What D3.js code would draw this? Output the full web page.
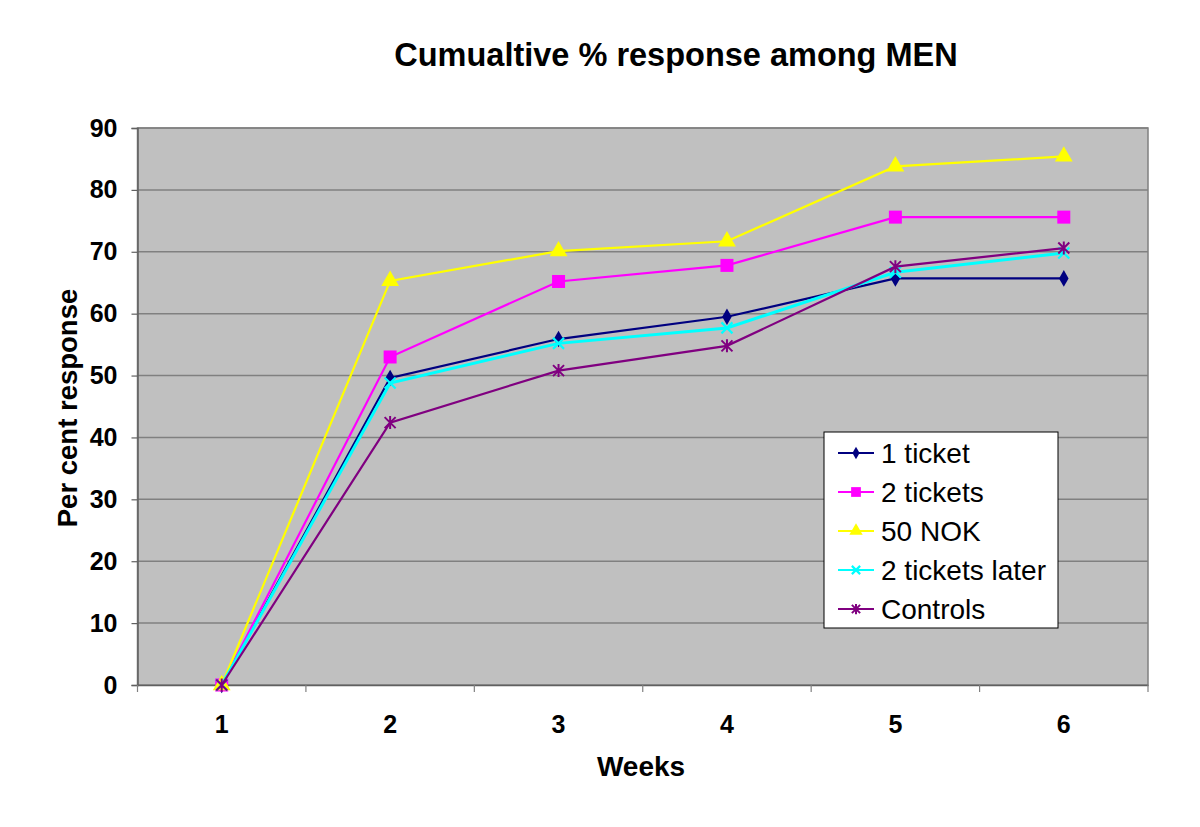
<!DOCTYPE html>
<html><head><meta charset="utf-8">
<script src="https://cdn.jsdelivr.net/npm/d3@7"></script>
<style>body{margin:0;background:#fff}text{font-family:"Liberation Sans",Arial,sans-serif}</style>
</head><body>
<svg id="c" width="1200" height="827"></svg>
<script>
const weeks = ["1","2","3","4","5","6"];
const yTicks = [0,10,20,30,40,50,60,70,80,90];
const seriesNames = ["1 ticket","2 tickets","50 NOK","2 tickets later","Controls"];
const oneTicket = [0, 49.6, 55.9, 59.5, 65.7, 65.7];
const twoTickets = [0, 53.0, 65.2, 67.8, 75.6, 75.6];
const fiftyNOK = [0, 65.3, 70.1, 71.7, 83.8, 85.4];
const twoTicketsLater = [0, 48.8, 55.2, 57.7, 66.7, 69.8];
const controls = [0, 42.4, 50.8, 54.8, 67.6, 70.6];
const colors = ["#000080","#FF00FF","#FFFF00","#00FFFF","#800080"];
const symbols = ["diamond","square","triangle","x","star"];

const series = [oneTicket, twoTickets, fiftyNOK, twoTicketsLater, controls].map((v,i)=>({name:seriesNames[i], values:v, color:colors[i], sym:symbols[i]}));

const L=137.5, R=1148, T=128, B=685;
const svg = d3.select("#c");
const x = d3.scaleBand().domain(weeks).range([L,R]).padding(0);
const y = d3.scaleLinear().domain([0,90]).range([B,T]);

svg.append("rect").attr("x",L).attr("y",T).attr("width",R-L).attr("height",B-T).attr("fill","#C0C0C0");
svg.append("g").selectAll("line").data(yTicks.filter(d=>d>0)).join("line")
  .attr("x1",L).attr("x2",R).attr("y1",d=>y(d)).attr("y2",d=>y(d))
  .attr("stroke","#808080").attr("stroke-width",1.5);
svg.append("rect").attr("x",L).attr("y",T).attr("width",R-L).attr("height",B-T).attr("fill","none").attr("stroke","#808080").attr("stroke-width",1.5);

const yAxis = svg.append("g").attr("transform",`translate(${L},0)`)
  .call(d3.axisLeft(y).tickValues(yTicks).tickSize(6).tickPadding(14));
yAxis.select(".domain").attr("stroke","#606060").attr("stroke-width",1.5);
yAxis.selectAll(".tick line").attr("stroke","#606060").attr("stroke-width",1.2);
yAxis.selectAll("text").attr("font-size",25).attr("font-weight","bold").attr("fill","#000").attr("font-family","Liberation Sans, Arial, sans-serif");

const xAxis = svg.append("g").attr("transform",`translate(0,${B})`)
  .call(d3.axisBottom(x).tickSize(0).tickPadding(30));
xAxis.select(".domain").attr("stroke","#606060").attr("stroke-width",1.5);
xAxis.selectAll("text").attr("font-size",25).attr("font-weight","bold").attr("fill","#000").attr("font-family","Liberation Sans, Arial, sans-serif");
const bounds = weeks.map(w=>x(w)).concat([R]);
xAxis.append("g").selectAll("line").data(bounds).join("line")
  .attr("x1",d=>d).attr("x2",d=>d).attr("y1",0).attr("y2",7).attr("stroke","#808080").attr("stroke-width",1.2);

const cx = w => x(w)+x.bandwidth()/2;
const line = d3.line().x((d,i)=>cx(weeks[i])).y(d=>y(d));

function drawMarker(g, sym, color, size){
  if(sym==="diamond"){
    g.append("path").attr("d",d3.symbol(d3.symbolDiamond, size*size*0.55)()).attr("fill",color);
  } else if(sym==="square"){
    g.append("rect").attr("x",-size/2).attr("y",-size/2).attr("width",size).attr("height",size).attr("fill",color);
  } else if(sym==="triangle"){
    g.append("path").attr("d",d3.symbol(d3.symbolTriangle, size*size*0.7)()).attr("fill",color);
  } else if(sym==="x"){
    const s=size/2;
    g.append("path").attr("d",`M${-s},${-s}L${s},${s}M${-s},${s}L${s},${-s}`).attr("stroke",color).attr("stroke-width",2.2);
  } else if(sym==="star"){
    const s=size/2;
    g.append("path").attr("d",`M${-s},${-s}L${s},${s}M${-s},${s}L${s},${-s}M0,${-s-1}L0,${s+1}`).attr("stroke",color).attr("stroke-width",2);
  }
}
const msize = {diamond:12, square:13, triangle:14, x:11, star:11};

series.forEach(s=>{
  svg.append("path").datum(s.values).attr("d",line).attr("fill","none")
    .attr("stroke",s.color).attr("stroke-width", s.sym==="x"?3:2.2);
  s.values.forEach((v,i)=>{
    const g = svg.append("g").attr("transform",`translate(${cx(weeks[i])},${y(v)})`);
    drawMarker(g, s.sym, s.color, msize[s.sym]);
  });
});

const lg = svg.append("g").attr("transform","translate(824,432)");
lg.append("rect").attr("x",0).attr("y",0).attr("width",234).attr("height",196).attr("fill","#fff").attr("stroke","#000").attr("stroke-width",1);
series.forEach((s,i)=>{
  const yy = 21 + i*39;
  lg.append("line").attr("x1",14).attr("x2",50).attr("y1",yy).attr("y2",yy).attr("stroke",s.color).attr("stroke-width",2.2);
  const g = lg.append("g").attr("transform",`translate(32,${yy})`);
  drawMarker(g, s.sym, s.color, msize[s.sym]*0.75);
  lg.append("text").attr("x",57).attr("y",yy+10).attr("font-size",28).attr("fill","#000").text(s.name);
});

svg.append("text").attr("x",676).attr("y",66).attr("text-anchor","middle").attr("font-size",32.5).attr("font-weight","bold").text("Cumualtive % response among MEN");
svg.append("text").attr("x",641).attr("y",776).attr("text-anchor","middle").attr("font-size",28).attr("font-weight","bold").text("Weeks");
svg.append("text").attr("transform","translate(77,408) rotate(-90)").attr("text-anchor","middle").attr("font-size",27.5).attr("font-weight","bold").text("Per cent response");
</script>
</body></html>
